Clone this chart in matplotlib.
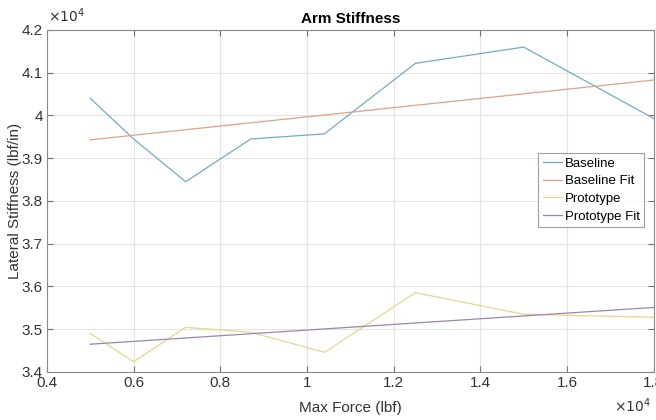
import numpy as np
import matplotlib
matplotlib.use('Agg')
import matplotlib.pyplot as plt
from matplotlib.ticker import FuncFormatter, MultipleLocator

# data (lbf, lbf/in)
max_force = [5000, 6000, 7200, 8700, 10400, 12500, 15000, 18000]
baseline = [40400, 39450, 38450, 39450, 39570, 41220, 41600, 39930]
prototype = [34900, 34240, 35045, 34930, 34460, 35855, 35350, 35280]

fit_force = [5000, 18000]
baseline_fit = [39430, 40830]
prototype_fit = [34650, 35510]

labels = ['Baseline', 'Baseline Fit', 'Prototype', 'Prototype Fit']
colors = ['#76aac6', '#dba488', '#e6d68e', '#9d86aa']

plt.rcParams['font.family'] = ['Liberation Sans', 'DejaVu Sans']

fig = plt.figure(figsize=(6.56, 4.2), dpi=100)
ax = fig.add_axes([0.0716, 0.1143, 0.925, 0.8143])

ax.plot(max_force, baseline, color=colors[0], lw=0.9, label=labels[0])
ax.plot(fit_force, baseline_fit, color=colors[1], lw=0.9, label=labels[1])
ax.plot(max_force, prototype, color=colors[2], lw=0.9, label=labels[2])
ax.plot(fit_force, prototype_fit, color=colors[3], lw=0.9, label=labels[3])

ax.set_xlim(4000, 18000)
ax.set_ylim(34000, 42000)
ax.xaxis.set_major_locator(MultipleLocator(2000))
ax.yaxis.set_major_locator(MultipleLocator(1000))
fmt = FuncFormatter(lambda v, p: '%g' % round(v / 1e4, 2))
ax.xaxis.set_major_formatter(fmt)
ax.yaxis.set_major_formatter(fmt)

ax.grid(True, color='#e4e4e4', lw=0.8)
ax.set_axisbelow(True)
for s in ax.spines.values():
    s.set_color('#8a8a8a')
    s.set_linewidth(0.8)
ax.tick_params(direction='in', length=4, width=0.8, color='#707070',
               top=True, right=True, labelsize=11, labelcolor='#333333', pad=3)

ax.set_title('Arm Stiffness', fontsize=11, fontweight='bold', pad=5)
ax.set_xlabel('Max Force (lbf)', fontsize=11, color='#333333', labelpad=8)
ax.set_ylabel('Lateral Stiffness (lbf/in)', fontsize=11, color='#333333', labelpad=0)

fig.text(0.073, 0.94, r'$\times10^4$', fontsize=10, color='#333333', ha='left', va='bottom')
fig.text(0.992, 0.012, r'$\times10^4$', fontsize=10, color='#333333', ha='right', va='bottom')

leg = ax.legend(loc='upper left', bbox_to_anchor=(0.81, 0.64), fontsize=9.5,
                frameon=True, fancybox=False, edgecolor='#888888',
                handlelength=1.4, handletextpad=0.25, borderpad=0.35,
                labelspacing=0.4, borderaxespad=0)
leg.get_frame().set_linewidth(0.8)

fig.savefig('out.png', dpi=100)
